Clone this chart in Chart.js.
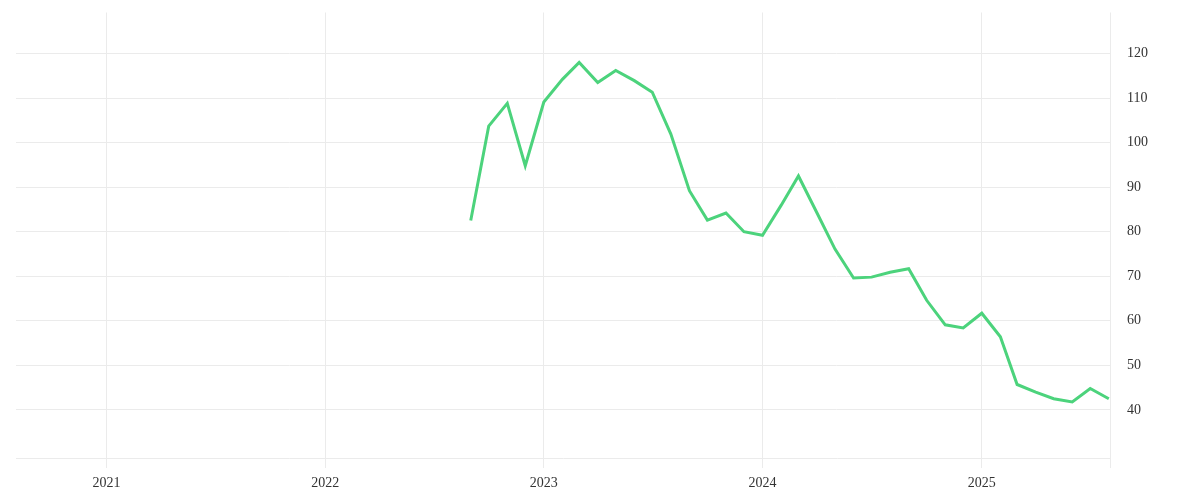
<!DOCTYPE html>
<html>
<head>
<meta charset="utf-8">
<script src="https://cdn.jsdelivr.net/npm/chart.js@4"></script>
<style>
html,body{margin:0;padding:0;background:#fff;}
#wrap{width:1200px;height:500px;position:relative;}
</style>
</head>
<body>
<div id="wrap"><canvas id="c"></canvas></div>
<script>
const months = ['2022-09','2022-10','2022-11','2022-12','2023-01','2023-02','2023-03','2023-04','2023-05','2023-06','2023-07','2023-08','2023-09','2023-10','2023-11','2023-12','2024-01','2024-02','2024-03','2024-04','2024-05','2024-06','2024-07','2024-08','2024-09','2024-10','2024-11','2024-12','2025-01','2025-02','2025-03','2025-04','2025-05','2025-06','2025-07','2025-08'];
const values = [82.5,103.7,108.8,94.8,109.1,114.2,118.0,113.5,116.2,113.9,111.3,101.9,89.2,82.6,84.2,80.0,79.2,85.9,92.5,84.2,76.1,69.6,69.8,70.9,71.7,64.6,59.1,58.4,61.7,56.4,45.7,44.0,42.5,41.8,44.8,42.5];
const yearTicks = [2021,2022,2023,2024,2025];
const yTicks = [40,50,60,70,80,90,100,110,120];

function toTs(m){const [y,mo]=m.split('-').map(Number);return Date.UTC(y,mo-1,1);}
const points = months.map((m,i)=>({x:toTs(m),y:values[i]}));
const xMin = Date.UTC(2020,7,3), xMax = Date.UTC(2025,7,3);
const grid = '#ebebeb';
const font = {family:'"Liberation Serif", serif', size:14};

new Chart(document.getElementById('c'),{
  type:'line',
  data:{datasets:[{data:points,borderColor:'#4cd37c',borderWidth:3,pointRadius:0,tension:0,fill:false}]},
  options:{
    responsive:true,maintainAspectRatio:false,animation:false,
    layout:{padding:{top:12.5,left:16,right:0,bottom:0}},
    plugins:{legend:{display:false},tooltip:{enabled:false}},
    scales:{
      x:{type:'linear',min:xMin,max:xMax,
        afterBuildTicks:s=>{s.ticks=yearTicks.map(y=>({value:Date.UTC(y,0,1)})).concat([{value:xMax}]);},
        afterFit:s=>{s.height=42;s.paddingLeft=0;s.paddingRight=0;},
        ticks:{font:font,color:'#333',padding:7,maxRotation:0,autoSkip:false,
          callback:(v)=>{const d=new Date(v);return (d.getUTCMonth()===0&&d.getUTCDate()===1)?String(d.getUTCFullYear()):'';}},
        grid:{color:grid,tickLength:10,drawTicks:true},
        border:{display:true,color:grid}
      },
      y:{position:'right',min:29.2,max:129.2,
        afterBuildTicks:s=>{s.ticks=yTicks.map(v=>({value:v}));},
        afterFit:s=>{s.width=90;s.paddingTop=0;s.paddingBottom=0;},
        ticks:{font:font,color:'#333',padding:17},
        grid:{color:grid,drawTicks:false},
        border:{display:false}
      }
    }
  }
});
</script>
</body>
</html>
